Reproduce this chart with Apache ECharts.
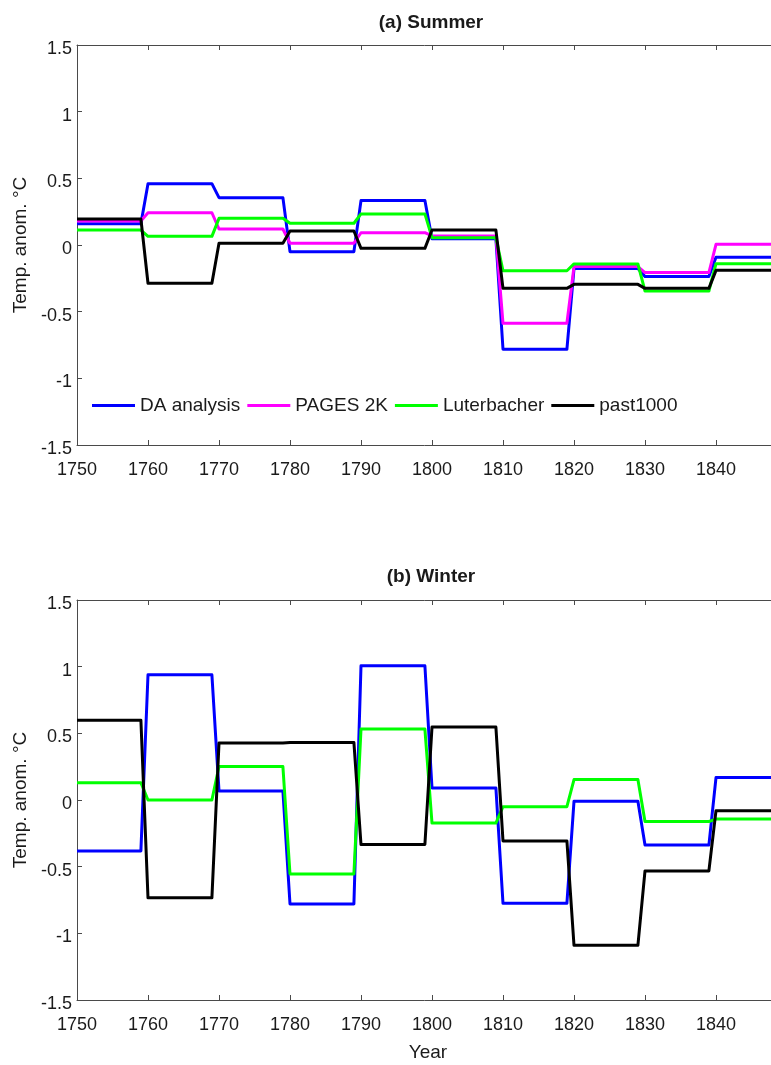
<!DOCTYPE html>
<html>
<head>
<meta charset="utf-8">
<title>Temperature anomalies 1750-1850</title>
<script src="https://cdn.jsdelivr.net/npm/echarts@6/dist/echarts.min.js"></script>
<style>
  html, body { margin: 0; padding: 0; background: #ffffff; }
  #chart { width: 771px; height: 1065px; }
</style>
</head>
<body>
<div id="chart"></div>
<script>
// Decadal mean temperature anomalies (°C), one value per decade starting at each year below
const decades = [1750, 1760, 1770, 1780, 1790, 1800, 1810, 1820, 1830, 1840];

// (a) Summer
const summerDA        = [0.16, 0.46, 0.355, -0.05, 0.333, 0.047, -0.782, -0.177, -0.237, -0.092];
const summerPAGES     = [0.18, 0.242, 0.12, 0.013, 0.092, 0.068, -0.587, -0.162, -0.207, 0.005];
const summerLuterb    = [0.112, 0.065, 0.2, 0.163, 0.233, 0.055, -0.193, -0.142, -0.345, -0.14];
const summerPast1000  = [0.195, -0.287, 0.013, 0.105, -0.025, 0.112, -0.325, -0.295, -0.325, -0.19];

// (b) Winter
const winterDA        = [-0.382, 0.939, 0.068, -0.78, 1.007, 0.09, -0.775, -0.01, -0.338, 0.168];
const winterLuterb    = [0.13, 0.0, 0.251, -0.555, 0.532, -0.173, -0.05, 0.153, -0.161, -0.143];
const winterPast1000  = [0.598, -0.734, 0.427, 0.432, -0.334, 0.547, -0.307, -1.09, -0.532, -0.08];

const seriesNames = ['DA analysis', 'PAGES 2K', 'Luterbacher', 'past1000'];
const seriesColors = ['#0000ff', '#ff00ff', '#00ff00', '#000000'];

const yTicks = [-1.5, -1, -0.5, 0, 0.5, 1, 1.5];
const xTickStep = 10;

// Each decadal mean is held flat from the first to the last year of its decade
function decadalSteps(values) {
  const pts = [];
  decades.forEach((d, i) => {
    pts.push([d, values[i]]);
    pts.push([d + 9, values[i]]);
  });
  return pts;
}

const FONT = 'Liberation Sans, Arial, sans-serif';
const AXIS_COLOR = '#4a4a4a';
const TEXT_COLOR = '#1a1a1a';
const X_MAX = decades[decades.length - 1] + xTickStep;

function xAxisPair(gridIndex, withName) {
  const base = {
    gridIndex: gridIndex,
    type: 'value',
    min: decades[0],
    max: X_MAX,
    interval: xTickStep,
    splitLine: { show: false },
    axisLine: { onZero: false, lineStyle: { color: AXIS_COLOR, width: 1 } },
    axisTick: { inside: true, length: 5, lineStyle: { color: AXIS_COLOR } }
  };
  const bottom = Object.assign({}, base, {
    position: 'bottom',
    axisLabel: {
      color: TEXT_COLOR, fontFamily: FONT, fontSize: 18, margin: 16,
      formatter: v => (v >= X_MAX ? '' : String(v))
    }
  });
  if (withName) {
    Object.assign(bottom, {
      name: 'Year', nameLocation: 'middle', nameGap: 43,
      nameTextStyle: { color: TEXT_COLOR, fontFamily: FONT, fontSize: 19, padding: [0, 8, 0, 0] }
    });
  }
  const top = Object.assign({}, base, { position: 'top', axisLabel: { show: false } });
  return [bottom, top];
}

function yAxisFor(gridIndex) {
  return {
    gridIndex: gridIndex,
    type: 'value',
    min: yTicks[0],
    max: yTicks[yTicks.length - 1],
    interval: 0.5,
    position: 'left',
    splitLine: { show: false },
    axisLine: { onZero: false, lineStyle: { color: AXIS_COLOR, width: 1 } },
    axisTick: { inside: true, length: 5, lineStyle: { color: AXIS_COLOR } },
    axisLabel: { color: TEXT_COLOR, fontFamily: FONT, fontSize: 18, margin: 5,
                 verticalAlign: 'top', lineHeight: 8 },
    name: 'Temp. anom. °C',
    nameLocation: 'middle',
    nameGap: 40,
    nameTextStyle: { color: TEXT_COLOR, fontFamily: FONT, fontSize: 19 }
  };
}

function lineSeries(name, values, color, axisIndex) {
  return {
    name: name,
    type: 'line',
    xAxisIndex: axisIndex,
    yAxisIndex: axisIndex === 0 ? 0 : 1,
    data: decadalSteps(values),
    symbol: 'none',
    lineStyle: { color: color, width: 3, join: 'round' },
    itemStyle: { color: color },
    animation: false
  };
}

const [xa0, xa0top] = xAxisPair(0, false);
const [xa1, xa1top] = xAxisPair(1, true);

const option = {
  backgroundColor: '#ffffff',
  animation: false,
  title: [
    { text: '(a) Summer', left: 426, top: 8, textAlign: 'center',
      textStyle: { color: TEXT_COLOR, fontFamily: FONT, fontSize: 19, fontWeight: 'bold' } },
    { text: '(b) Winter', left: 426, top: 562, textAlign: 'center',
      textStyle: { color: TEXT_COLOR, fontFamily: FONT, fontSize: 19, fontWeight: 'bold' } }
  ],
  legend: {
    data: seriesNames,
    left: 92, top: 396,
    padding: 0,
    orient: 'horizontal',
    icon: 'rect',
    itemWidth: 43, itemHeight: 3, itemGap: 7,
    textStyle: { color: TEXT_COLOR, fontFamily: FONT, fontSize: 19 },
    backgroundColor: 'transparent'
  },
  // the plot box runs to 1850; its right edge lies just past the page edge
  grid: [
    { left: 77, top: 45, width: 710, height: 400, outerBoundsMode: 'none', containLabel: false },
    { left: 77, top: 600, width: 710, height: 400, outerBoundsMode: 'none', containLabel: false }
  ],
  // axes 0/1 carry labels; axes 2/3 close the box along the top edge
  xAxis: [xa0, xa1, xa0top, xa1top],
  yAxis: [yAxisFor(0), yAxisFor(1)],
  series: [
    lineSeries(seriesNames[0], summerDA, seriesColors[0], 0),
    lineSeries(seriesNames[1], summerPAGES, seriesColors[1], 0),
    lineSeries(seriesNames[2], summerLuterb, seriesColors[2], 0),
    lineSeries(seriesNames[3], summerPast1000, seriesColors[3], 0),
    lineSeries(seriesNames[0], winterDA, seriesColors[0], 1),
    lineSeries(seriesNames[2], winterLuterb, seriesColors[2], 1),
    lineSeries(seriesNames[3], winterPast1000, seriesColors[3], 1)
  ]
};

const chart = echarts.init(document.getElementById('chart'), null, { renderer: 'canvas' });
chart.setOption(option);
</script>
</body>
</html>
